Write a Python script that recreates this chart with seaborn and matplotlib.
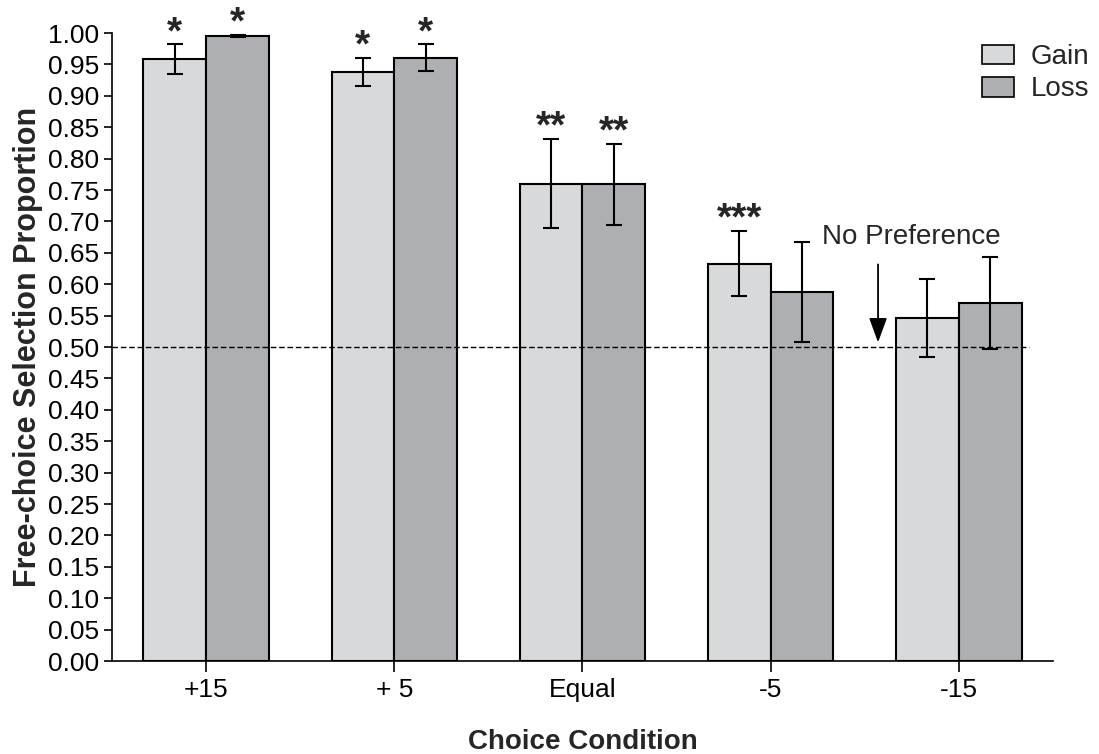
import seaborn as sns
import matplotlib.pyplot as plt
import pandas as pd

conditions = ["+15", "+ 5", "Equal", "-5", "-15"]
gain_mean = [0.958, 0.938, 0.760, 0.633, 0.546]
gain_err = [0.024, 0.023, 0.071, 0.052, 0.062]
loss_mean = [0.995, 0.961, 0.759, 0.588, 0.570]
loss_err = [0.002, 0.021, 0.065, 0.080, 0.073]
gain_stars = ["*", "*", "**", "***", ""]
loss_stars = ["*", "*", "**", "", ""]

df = pd.DataFrame({
    "condition": conditions * 2,
    "group": ["Gain"] * 5 + ["Loss"] * 5,
    "value": gain_mean + loss_mean,
    "err": gain_err + loss_err,
    "star": gain_stars + loss_stars,
})

sns.set_style("ticks")
plt.rcParams["font.family"] = ["Liberation Sans", "DejaVu Sans"]

fig = plt.figure(figsize=(10.99, 7.54), dpi=100)
ax = fig.add_axes([0.102, 0.1233, 0.856, 0.8329])

sns.barplot(data=df, x="condition", y="value", hue="group",
            palette={"Gain": "#d8d9db", "Loss": "#aeafb3"},
            width=0.667, edgecolor="black", linewidth=1.5,
            errorbar=None, ax=ax, saturation=1)

# error bars and stars, bar by bar
for cont, grp in zip(ax.containers, ["Gain", "Loss"]):
    sub = df[df.group == grp].reset_index(drop=True)
    for bar, (_, row) in zip(cont, sub.iterrows()):
        cx = bar.get_x() + bar.get_width() / 2
        ax.errorbar(cx, row.value, yerr=row.err, color="black",
                    capsize=6, elinewidth=1.5, capthick=1.5, clip_on=False)
        if row.star:
            ax.text(cx, row.value + row.err + 0.002, row.star,
                    ha="center", va="baseline", fontsize=28,
                    fontweight="bold", clip_on=False)

ax.axhline(0.5, xmax=0.975, color="black", linestyle=(0, (4, 2)), linewidth=1)
ax.annotate("", xy=(3.571, 0.503), xytext=(3.571, 0.636),
            arrowprops=dict(arrowstyle="-|>,head_length=1.5,head_width=0.55",
                            color="black", lw=1.3))
ax.text(3.273, 0.675, "No Preference", ha="left", va="center", fontsize=20)

ax.set_xlim(-0.5, 4.5)
ax.set_ylim(0, 1.0)
ax.set_yticks([i * 0.05 for i in range(21)])
ax.set_yticklabels([f"{i * 0.05:.2f}" for i in range(21)])
ax.tick_params(axis="both", labelsize=19, width=1.2, colors="black")
ax.tick_params(axis="y", length=6, pad=3)
ax.tick_params(axis="x", length=8, pad=4)
sns.despine(ax=ax)
for s in ["left", "bottom"]:
    ax.spines[s].set_linewidth(1.2)
    ax.spines[s].set_color("black")

ax.set_xlabel("Choice Condition", fontsize=20, fontweight="bold", labelpad=20)
ax.set_ylabel("Free-choice Selection Proportion", fontsize=22,
              fontweight="bold", labelpad=4)

leg = ax.legend(loc="upper right", bbox_to_anchor=(1.065, 1.022), frameon=False,
                fontsize=20, handlelength=1.15, handleheight=0.72,
                handletextpad=0.6, labelspacing=0.22)
for h in leg.legend_handles:
    h.set_edgecolor("black")
    h.set_linewidth(1.2)

fig.savefig("out.png", dpi=100)
